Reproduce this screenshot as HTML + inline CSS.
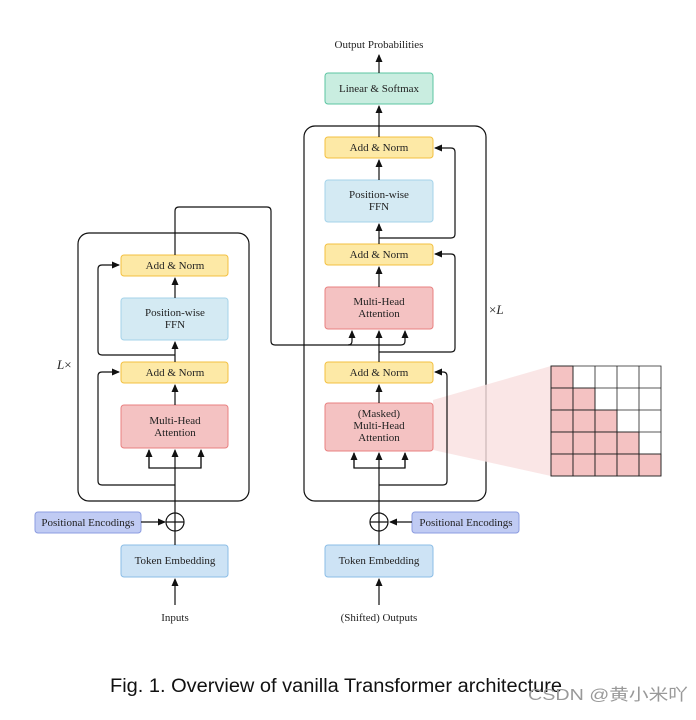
<!DOCTYPE html>
<html><head><style>
body{margin:0;background:#fff;width:696px;height:715px;overflow:hidden}
svg text{font-family:"Liberation Serif",serif;font-size:11px;fill:#222}
</style></head><body>
<svg width="696" height="715" viewBox="0 0 696 715" xmlns="http://www.w3.org/2000/svg">
<defs><marker id="a" markerWidth="8" markerHeight="8" refX="7" refY="4" orient="auto" markerUnits="userSpaceOnUse"><path d="M0,0.5 L8,4 L0,7.5z" fill="#111"/></marker></defs>
<g fill="none" stroke="#111" stroke-width="1.2">
<rect x="78" y="233" width="171" height="268" rx="11"/>
<rect x="304" y="126" width="182" height="375" rx="11"/>
</g>
<polygon points="433,400 551,366 551,476 433,450" fill="#f9e0e0" opacity="0.8"/>
<g stroke-width="1">
<rect x="121" y="255" width="107" height="21" rx="3" fill="#fde9a6" stroke="#f3c040"/>
<rect x="121" y="298" width="107" height="42" rx="3" fill="#d4eaf3" stroke="#a5d3ea"/>
<rect x="121" y="362" width="107" height="21" rx="3" fill="#fde9a6" stroke="#f3c040"/>
<rect x="121" y="405" width="107" height="43" rx="3" fill="#f4c2c2" stroke="#e98080"/>
<rect x="35" y="512" width="106" height="21" rx="3" fill="#c0cbf3" stroke="#8c9ce0"/>
<rect x="121" y="545" width="107" height="32" rx="3" fill="#cde3f5" stroke="#8bbde6"/>
<rect x="325" y="73" width="108" height="31" rx="3" fill="#c9ede0" stroke="#5cc5a2"/>
<rect x="325" y="137" width="108" height="21" rx="3" fill="#fde9a6" stroke="#f3c040"/>
<rect x="325" y="180" width="108" height="42" rx="3" fill="#d4eaf3" stroke="#a5d3ea"/>
<rect x="325" y="244" width="108" height="21" rx="3" fill="#fde9a6" stroke="#f3c040"/>
<rect x="325" y="287" width="108" height="42" rx="3" fill="#f4c2c2" stroke="#e98080"/>
<rect x="325" y="362" width="108" height="21" rx="3" fill="#fde9a6" stroke="#f3c040"/>
<rect x="325" y="403" width="108" height="48" rx="3" fill="#f4c2c2" stroke="#e98080"/>
<rect x="412" y="512" width="107" height="21" rx="3" fill="#c0cbf3" stroke="#8c9ce0"/>
<rect x="325" y="545" width="108" height="32" rx="3" fill="#cde3f5" stroke="#8bbde6"/>
</g>
<g fill="none" stroke="#111" stroke-width="1.2">
<line x1="175" y1="605" x2="175" y2="579" marker-end="url(#a)"/>
<line x1="175" y1="545" x2="175" y2="531"/>
<circle cx="175" cy="522" r="9"/><line x1="166" y1="522" x2="184" y2="522"/><line x1="175" y1="513" x2="175" y2="531"/>
<line x1="141" y1="522" x2="165" y2="522" marker-end="url(#a)"/>
<line x1="175" y1="513" x2="175" y2="450" marker-end="url(#a)"/>
<path d="M149,450 V468 H201 V450"/>
<line x1="149" y1="468" x2="149" y2="450" marker-end="url(#a)"/>
<line x1="201" y1="468" x2="201" y2="450" marker-end="url(#a)"/>
<path d="M175,485 H102 Q98,485 98,481 V376 Q98,372 102,372 H119" marker-end="url(#a)"/>
<line x1="175" y1="405" x2="175" y2="385" marker-end="url(#a)"/>
<line x1="175" y1="362" x2="175" y2="342" marker-end="url(#a)"/>
<path d="M175,355 H102 Q98,355 98,351 V269 Q98,265 102,265 H119" marker-end="url(#a)"/>
<line x1="175" y1="298" x2="175" y2="278" marker-end="url(#a)"/>
<path d="M175,255 V211 Q175,207 179,207 H267 Q271,207 271,211 V341 Q271,345 275,345 H401 Q405,345 405,341 V331" marker-end="url(#a)"/>
<path d="M348,345 Q352,345 352,341 V331" marker-end="url(#a)"/>
<line x1="379" y1="605" x2="379" y2="579" marker-end="url(#a)"/>
<line x1="379" y1="545" x2="379" y2="531"/>
<circle cx="379" cy="522" r="9"/><line x1="370" y1="522" x2="388" y2="522"/><line x1="379" y1="513" x2="379" y2="531"/>
<line x1="412" y1="522" x2="390" y2="522" marker-end="url(#a)"/>
<line x1="379" y1="513" x2="379" y2="453" marker-end="url(#a)"/>
<path d="M354,453 V468 H405 V453"/>
<line x1="354" y1="468" x2="354" y2="453" marker-end="url(#a)"/>
<line x1="405" y1="468" x2="405" y2="453" marker-end="url(#a)"/>
<path d="M379,485 H443 Q447,485 447,481 V376 Q447,372 443,372 H435" marker-end="url(#a)"/>
<line x1="379" y1="403" x2="379" y2="385" marker-end="url(#a)"/>
<line x1="379" y1="362" x2="379" y2="331" marker-end="url(#a)"/>
<path d="M379,352 H451 Q455,352 455,348 V258 Q455,254 451,254 H435" marker-end="url(#a)"/>
<line x1="379" y1="287" x2="379" y2="267" marker-end="url(#a)"/>
<line x1="379" y1="244" x2="379" y2="224" marker-end="url(#a)"/>
<path d="M379,238 H451 Q455,238 455,234 V152 Q455,148 451,148 H435" marker-end="url(#a)"/>
<line x1="379" y1="180" x2="379" y2="160" marker-end="url(#a)"/>
<line x1="379" y1="137" x2="379" y2="106" marker-end="url(#a)"/>
<line x1="379" y1="73" x2="379" y2="55" marker-end="url(#a)"/>
</g>
<g stroke="#222" stroke-width="0.8">
<g fill="#f4c2c2">
<rect x="551" y="366" width="22" height="22"/>
<rect x="551" y="388" width="22" height="22"/><rect x="573" y="388" width="22" height="22"/>
<rect x="551" y="410" width="22" height="22"/><rect x="573" y="410" width="22" height="22"/><rect x="595" y="410" width="22" height="22"/>
<rect x="551" y="432" width="22" height="22"/><rect x="573" y="432" width="22" height="22"/><rect x="595" y="432" width="22" height="22"/><rect x="617" y="432" width="22" height="22"/>
<rect x="551" y="454" width="22" height="22"/><rect x="573" y="454" width="22" height="22"/><rect x="595" y="454" width="22" height="22"/><rect x="617" y="454" width="22" height="22"/><rect x="639" y="454" width="22" height="22"/>
</g>
<path fill="none" d="M551,366 H661 V476 H551Z M573,366 V476 M595,366 V476 M617,366 V476 M639,366 V476 M551,388 H661 M551,410 H661 M551,432 H661 M551,454 H661"/>
</g>
<g text-anchor="middle">
<text x="175" y="269">Add &amp; Norm</text>
<text x="175" y="316">Position-wise</text><text x="175" y="328">FFN</text>
<text x="175" y="376">Add &amp; Norm</text>
<text x="175" y="424">Multi-Head</text><text x="175" y="436">Attention</text>
<text x="88" y="526">Positional Encodings</text>
<text x="175" y="564">Token Embedding</text>
<text x="175" y="621">Inputs</text>
<text x="379" y="48">Output Probabilities</text>
<text x="379" y="92">Linear &amp; Softmax</text>
<text x="379" y="151">Add &amp; Norm</text>
<text x="379" y="198">Position-wise</text><text x="379" y="210">FFN</text>
<text x="379" y="258">Add &amp; Norm</text>
<text x="379" y="305">Multi-Head</text><text x="379" y="317">Attention</text>
<text x="379" y="376">Add &amp; Norm</text>
<text x="379" y="417">(Masked)</text><text x="379" y="429">Multi-Head</text><text x="379" y="441">Attention</text>
<text x="466" y="526">Positional Encodings</text>
<text x="379" y="564">Token Embedding</text>
<text x="379" y="621">(Shifted) Outputs</text>
</g>
<text x="57" y="369" style="font-size:13px"><tspan font-style="italic">L</tspan>×</text>
<text x="489" y="314" style="font-size:13px">×<tspan font-style="italic">L</tspan></text>
<text x="110" y="692" textLength="452" lengthAdjust="spacingAndGlyphs" style="font-family:'Liberation Sans',sans-serif;font-size:19px;fill:#111">Fig. 1.  Overview of vanilla Transformer architecture</text>
<text x="528" y="700" textLength="160" lengthAdjust="spacingAndGlyphs" style="font-family:'Liberation Sans','Noto Sans CJK SC',sans-serif;font-size:16px;fill:#999">CSDN @黄小米吖</text>
</svg>
</body></html>
